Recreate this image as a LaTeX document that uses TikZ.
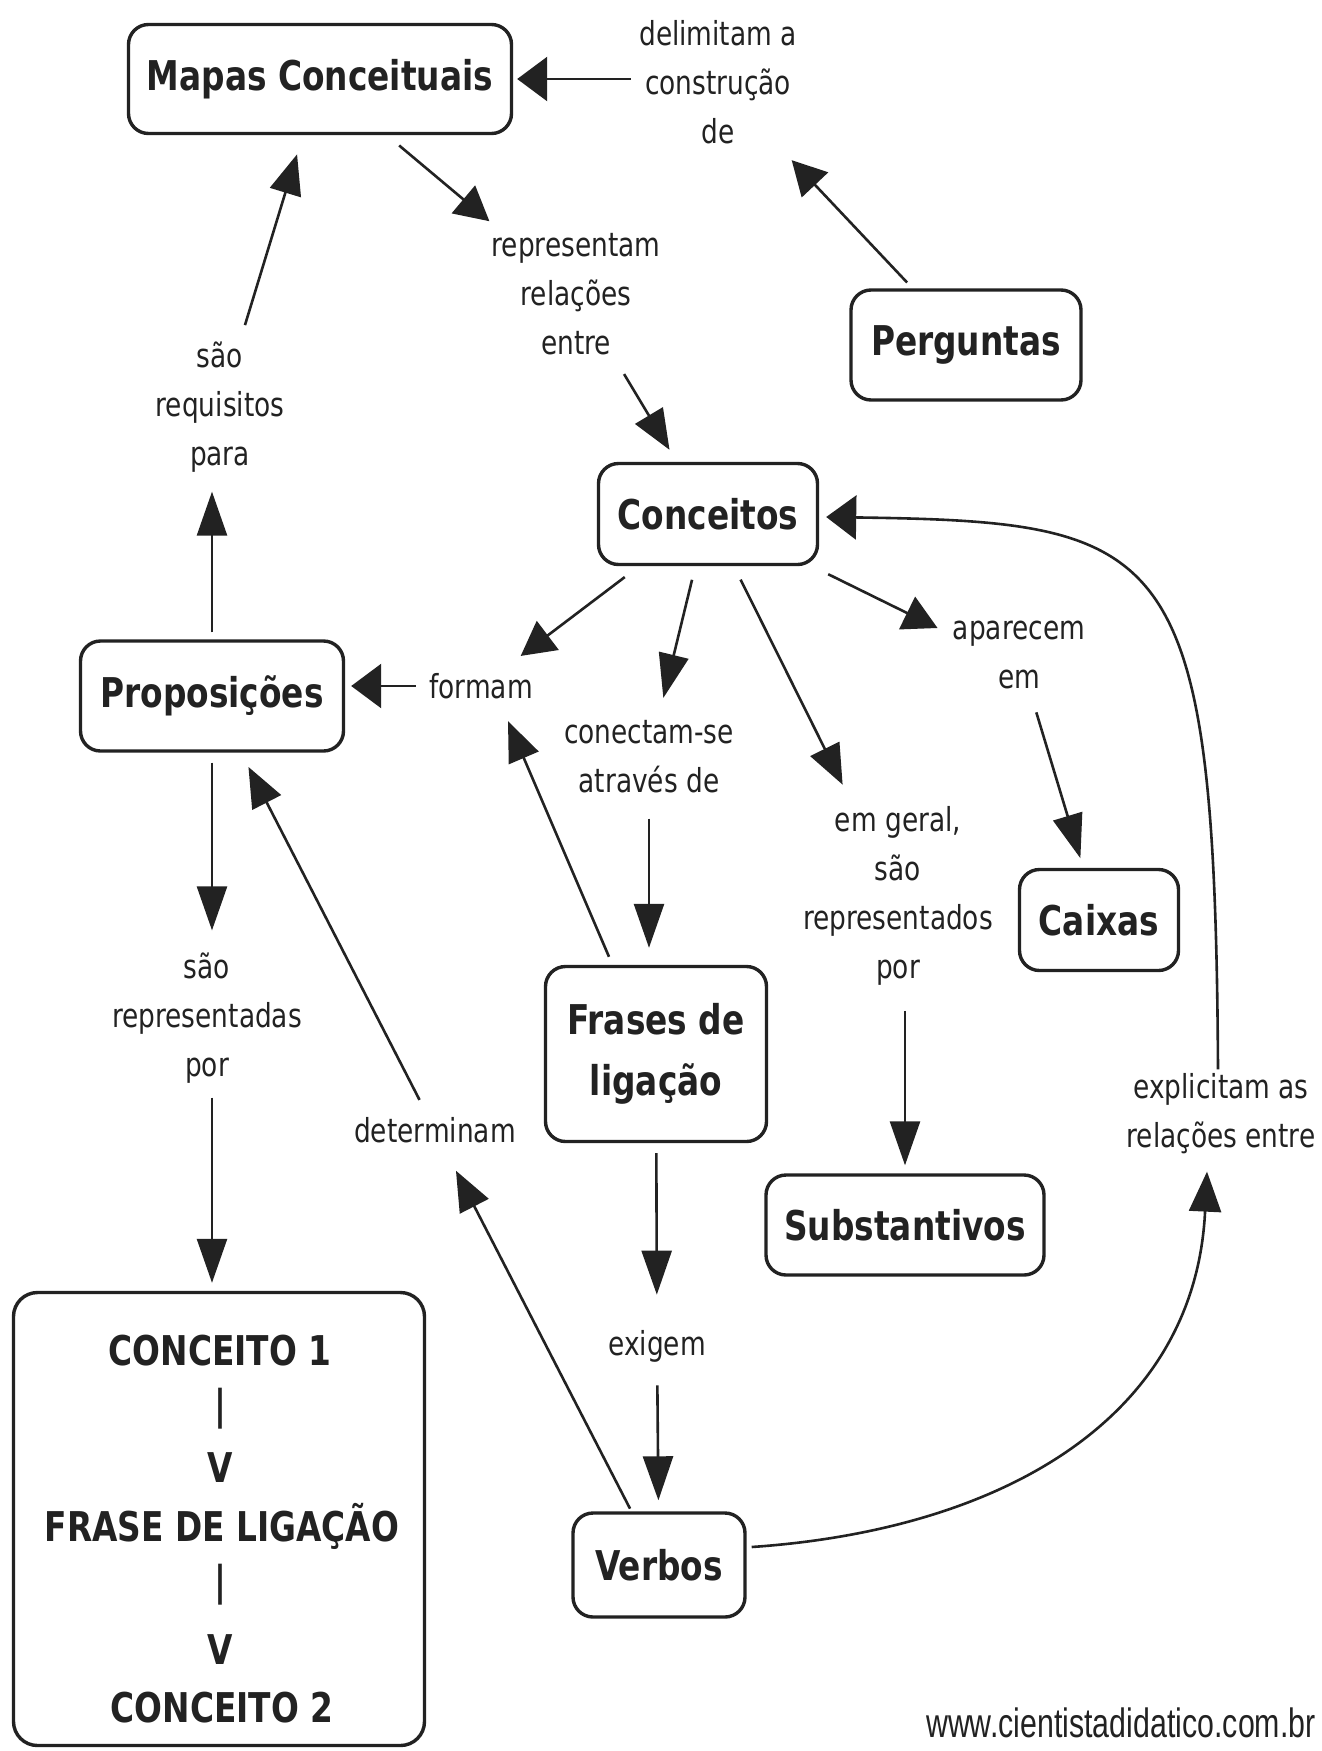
\documentclass[tikz,border=0pt]{standalone}
\usepackage{fontspec}
\setmainfont[FakeStretch=0.8]{DejaVu Sans}
\newfontfamily\webfont[FakeStretch=0.74]{Liberation Sans}
\usetikzlibrary{arrows.meta,calc}
\definecolor{ink}{HTML}{222222}
\newcommand\cmbig{\fontsize{20.5pt}{30.5pt}\selectfont\bfseries}
\newcommand\cmsmall{\fontsize{16.5pt}{24.5pt}\selectfont}
\begin{document}
\begin{tikzpicture}[x=0.5pt,y=-0.5pt,
  box/.style={draw=ink, line width=1.7pt, rounded corners=10pt, font=\cmbig, text=ink, inner sep=0pt, align=center},
  lbl/.style={font=\cmsmall, text=ink, inner sep=0pt, align=center},
  bt/.style={font=\cmbig, text=ink, inner sep=0pt, anchor=base},
  arr/.style={draw=ink, line width=1.3pt, -{Triangle[length=17pt,width=18pt]}},
  vtip/.style={-{Triangle[length=22pt,width=15pt]}},
  stip/.style={-{Triangle[length=20pt,width=16pt]}},
  htip/.style={-{Triangle[length=15pt,width=22pt]}},
]
\useasboundingbox[fill=white] (0,0) rectangle (1322,1751);

% concept boxes
\node[box, minimum width=191.5pt, minimum height=54.5pt] (mapas) at (320,79) {Mapas Conceituais};
\node[box, minimum width=115pt, minimum height=55pt] (perg) at (966,345) {Perguntas};
\node[box, minimum width=109.5pt, minimum height=50.5pt] (conc) at (708,514) {Conceitos};
\node[box, minimum width=131.5pt, minimum height=55pt] (prop) at (212,696) {Proposições};
\node[box, minimum width=79.5pt, minimum height=50.5pt] (caix) at (1099,920) {Caixas};
\node[box, minimum width=110.5pt, minimum height=87.5pt] (frases) at (656,1054) {Frases de\\ligação};
\node[box, minimum width=139pt, minimum height=50pt] (subst) at (905,1225) {Substantivos};
\node[box, minimum width=86pt, minimum height=52pt] (verbos) at (659,1565) {Verbos};
\node[box, minimum width=205.5pt, minimum height=226.5pt, rounded corners=12pt] (big) at (219,1519) {};

% contents of the big box
\node[bt] (t1) at (220,1365) {CONCEITO 1};
\node[bt] (t2) at (220,1419) {|};
\node[bt] (t3) at (220,1482) {V};
\node[bt] (t4) at (222,1541) {FRASE DE LIGAÇÃO};
\node[bt] (t5) at (220,1595) {|};
\node[bt] (t6) at (220,1664) {V};
\node[bt] (t7) at (222,1722) {CONCEITO 2};

% linking phrases
\node[lbl] (delim) at (718,82) {delimitam a\\construção\\de};
\node[lbl] (rep) at (576,294) {representam\\relações\\entre};
\node[lbl] (req) at (220,407) {são\\requisitos\\para};
\node[lbl] (formam) at (481,686) {formam};
\node[lbl] (conect) at (649,757) {conectam-se\\através de};
\node[lbl] (apar) at (1019,655) {aparecem\\em};
\node[lbl] (emgeral) at (898,896) {em geral,\\são\\representados\\por};
\node[lbl] (srep) at (207,1018) {são\\representadas\\por};
\node[lbl] (det) at (435,1130) {determinam};
\node[lbl] (expl) at (1221,1114) {explicitam as\\relações entre};
\node[lbl] (exig) at (657,1346) {exigem};
\node[font=\webfont\fontsize{20.5pt}{22pt}\selectfont, text=ink, inner sep=0pt, anchor=base east] (web) at (1316,1737) {www.cientistadidatico.com.br};

% connectors
\draw[arr, htip, shorten >=2pt] ($(delim.west |- mapas.east)+(-8,0)$) -- (mapas.east);
\draw[arr, shorten <=4pt, shorten >=11pt] (perg) -- (delim);
\draw[arr, shorten <=8pt, shorten >=9pt] (mapas) -- (rep);
\draw[arr, stip, shorten <=11pt, shorten >=7pt] (rep) -- (conc);
\draw[arr, vtip, shorten <=3.5pt, shorten >=9.5pt] (prop.north) -- (prop.north |- req.south);
\draw[arr, stip, shorten <=8.5pt, shorten >=10pt] (req) -- (mapas);
\draw[arr, shorten <=9pt, shorten >=14pt] (conc) -- (formam);
\draw[arr, vtip, shorten <=7pt, shorten >=11.5pt] (conc) -- (conect);
\draw[arr, stip, shorten <=7.5pt, shorten >=12pt] (conc) -- (emgeral);
\draw[arr] ($(conc.south east)+(9,8)$) -- ($(apar.west)+(-15,-27)$);
\draw[arr, htip, shorten >=3pt] ($(formam.west)+(-13,0)$) -- (formam.west -| prop.east);
\draw[arr, stip] ($(frases.north)+(-47,-8)$) -- ($(formam.south)+(27,22)$);
\draw[arr, vtip, shorten <=12.5pt, shorten >=8.5pt] (conect.south) -- (conect.south |- frases.north);
\draw[arr, vtip, shorten <=12pt, shorten >=5pt] (apar) -- (caix);
\draw[arr, vtip, shorten <=12.5pt, shorten >=4pt] (emgeral.south -| subst.north) -- (subst.north);
\draw[arr, vtip, shorten <=5pt, shorten >=11pt] (prop.south) -- (prop.south |- srep.north);
\draw[arr, vtip, shorten <=7pt, shorten >=4pt] (prop.south |- srep.south) -- (prop.south |- big.north);
\draw[arr, stip, shorten <=9.5pt, shorten >=8pt] (det) -- (prop);
\draw[arr, stip, shorten <=1.5pt, shorten >=15.5pt] (verbos) -- (det);
\draw[arr, vtip, shorten <=5pt, shorten >=17.5pt] (frases) -- (exig);
\draw[arr, vtip, shorten <=11.5pt, shorten >=5.5pt] (exig) -- (verbos);
\draw[arr, stip] ($(verbos.east)+(5,-18)$) .. controls (1000,1530) and (1195,1420) .. ($(expl.south)+(-14,17)$);
\draw[arr, htip] ($(expl.north)+(-3,-4)$) .. controls (1215,540) and (1170,522) .. ($(conc.east)+(7,3)$);
\end{tikzpicture}
\end{document}
